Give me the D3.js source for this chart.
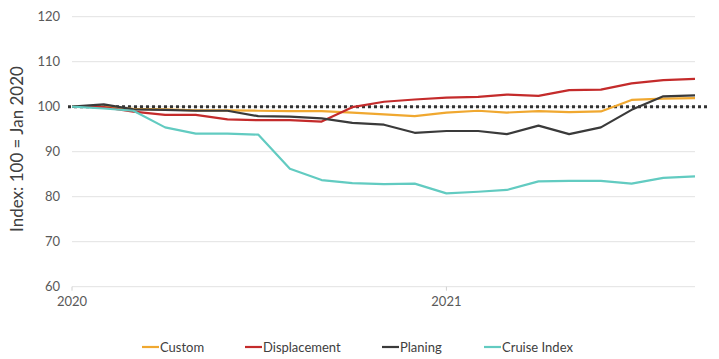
<!DOCTYPE html>
<html><head><meta charset="utf-8">
<script src="https://cdn.jsdelivr.net/npm/d3@7"></script>
<style>body{margin:0;background:#fff}svg{display:block}text{font-family:Lato,"Open Sans",sans-serif}</style>
</head><body><svg id="c" width="719" height="359"></svg>
<script>
const months = ["2020-01","2020-02","2020-03","2020-04","2020-05","2020-06","2020-07","2020-08","2020-09","2020-10","2020-11","2020-12","2021-01","2021-02","2021-03","2021-04","2021-05","2021-06","2021-07","2021-08","2021-09"];
const custom = [100,100.0,99.5,99.4,99.2,99.2,99.1,99.0,99.0,98.7,98.3,97.9,98.7,99.1,98.7,99.0,98.8,98.95,101.5,101.8,101.9];
const displacement = [100,99.9,98.9,98.2,98.2,97.2,97.0,97.0,96.7,99.9,101.1,101.6,102.0,102.2,102.7,102.4,103.7,103.8,105.2,105.9,106.2];
const planing = [100,100.5,99.4,99.3,99.1,99.1,97.9,97.8,97.4,96.4,96.0,94.2,94.6,94.6,93.9,95.8,93.9,95.4,99.3,102.3,102.5];
const cruise = [100,99.6,99.1,95.4,94.0,94.0,93.8,86.2,83.7,83.0,82.8,82.9,80.75,81.1,81.5,83.4,83.5,83.5,82.9,84.2,84.5];
const seriesNames = ["Custom","Displacement","Planing","Cruise Index"];
const seriesColors = ["#F0A830","#C42B2B","#3A3A3A","#62CBC1"];
const yTicks = [60,70,80,90,100,110,120];
const xTickLabels = ["2020","2021"];
const baseline = 100;

const svg = d3.select("#c");
const parse = d3.timeParse("%Y-%m");
const dates = months.map(parse);
const x = d3.scaleTime().domain([dates[0], dates[dates.length-1]]).range([72,695]);
const y = d3.scaleLinear().domain([60,120]).range([286.7,16.7]);

// gridlines
svg.append("g").selectAll("line").data(yTicks).join("line")
  .attr("x1",72).attr("x2",695).attr("y1",d=>y(d)).attr("y2",d=>y(d))
  .attr("stroke","#e2e2e2").attr("stroke-width",1);
// y labels
svg.append("g").selectAll("text").data(yTicks).join("text")
  .attr("x",60).attr("y",d=>y(d)).attr("dy","0.35em").attr("text-anchor","end")
  .attr("font-size",13).attr("fill","#595959").text(d=>d);
// x ticks
const xt = xTickLabels.map(s=>d3.timeParse("%Y")(s));
svg.append("g").selectAll("line").data(xt).join("line")
  .attr("x1",d=>x(d)).attr("x2",d=>x(d)).attr("y1",y(60)).attr("y2",y(60)+4)
  .attr("stroke","#d0d0d0");
svg.append("g").selectAll("text").data(xt).join("text")
  .attr("x",d=>x(d)).attr("y",306).attr("text-anchor","middle")
  .attr("font-size",13).attr("fill","#595959").text(d=>d3.timeFormat("%Y")(d));
// y title
svg.append("text").attr("transform","translate(23,149) rotate(-90)")
  .attr("text-anchor","middle").attr("font-size",17).attr("fill","#404040")
  .text("Index: 100 = Jan 2020");
// baseline dotted
svg.append("line").attr("x1",68).attr("x2",708).attr("y1",y(baseline)).attr("y2",y(baseline))
  .attr("stroke","#333").attr("stroke-width",3).attr("stroke-dasharray","3,3");
// series
const all = [custom,displacement,planing,cruise];
const line = d3.line().x((d,i)=>x(dates[i])).y(d=>y(d));
all.forEach((s,k)=>{
  svg.append("path").datum(s).attr("d",line).attr("fill","none")
    .attr("stroke",seriesColors[k]).attr("stroke-width",2.2).attr("stroke-linejoin","round");
});
// legend
const legX = [142,245,382,484];
const lg = svg.append("g");
seriesNames.forEach((n,k)=>{
  lg.append("line").attr("x1",legX[k]).attr("x2",legX[k]+17).attr("y1",347).attr("y2",347)
    .attr("stroke",seriesColors[k]).attr("stroke-width",2.2);
  lg.append("text").attr("x",legX[k]+18).attr("y",347).attr("dy","0.35em")
    .attr("font-size",13).attr("fill","#404040").text(n);
});
</script></body></html>
